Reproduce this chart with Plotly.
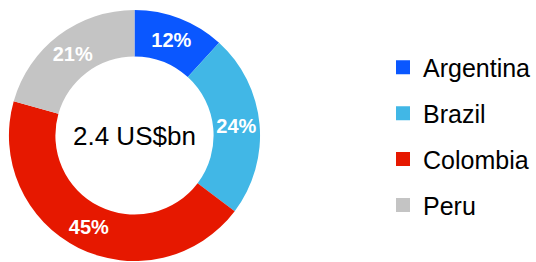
import plotly.graph_objects as go

countries = ["Argentina", "Brazil", "Colombia", "Peru"]
shares = [12, 24, 45, 21]
colors = ["#0A57FF", "#41B7E6", "#E61800", "#C4C4C4"]
center_label = "2.4 US$bn"

W, H = 536, 262
FONT = "Liberation Sans, Arial, sans-serif"

# pie domain in pixels (plot area = full width, height minus top margin)
mt, mb = 9, 0
ph = H - mt - mb
cx = 135.5
x0, x1 = (cx - ph / 2) / W, (cx + ph / 2) / W

fig = go.Figure()
fig.add_trace(go.Pie(
    labels=countries,
    values=shares,
    sort=False,
    direction="clockwise",
    rotation=0,
    hole=0.63,
    marker=dict(colors=colors, line=dict(width=0)),
    texttemplate="%{value}%",
    textposition="inside",
    insidetextorientation="horizontal",
    insidetextfont=dict(family=FONT, size=20, color="white", weight="bold"),
    showlegend=False,
    hoverinfo="label+percent",
    domain=dict(x=[x0, x1], y=[0, 1]),
))

# legend entries (square swatches)
for i, (name, col) in enumerate(zip(countries, colors)):
    fig.add_trace(go.Scatter(
        x=[None], y=[None], mode="markers", name=name,
        marker=dict(symbol="square", size=14, color=col),
        legendgroup=f"g{i}", showlegend=True,
    ))

fig.add_annotation(
    text=center_label, x=(x0 + x1) / 2, y=0.5, xref="paper", yref="paper",
    showarrow=False, font=dict(family=FONT, size=26, color="black"),
    xanchor="center", yanchor="middle",
)

fig.update_layout(
    width=W, height=H,
    margin=dict(l=0, r=0, t=mt, b=mb),
    paper_bgcolor="white", plot_bgcolor="white",
    xaxis=dict(visible=False), yaxis=dict(visible=False),
    legend=dict(
        x=0.7201, y=0.496, xanchor="left", yanchor="middle",
        font=dict(family=FONT, size=25, color="black"),
        tracegroupgap=10.4, itemwidth=30, bgcolor="rgba(0,0,0,0)",
    ),
)

fig.write_html("out.html", config={"displayModeBar": False},
               post_script="document.body.style.margin='0';")
